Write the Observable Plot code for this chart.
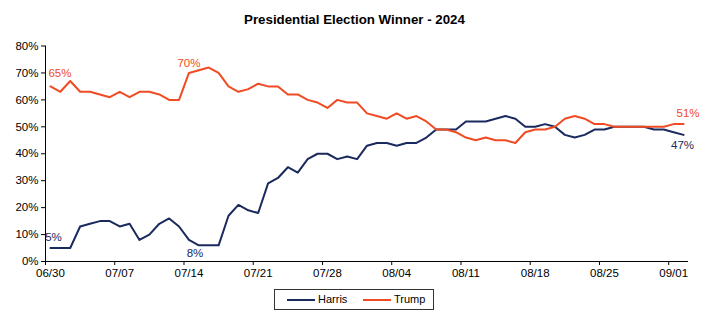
<!DOCTYPE html>
<html><head><meta charset="utf-8">
<script src="https://cdn.jsdelivr.net/npm/d3@7"></script>
<script src="https://cdn.jsdelivr.net/npm/@observablehq/plot@0.6"></script>
<style>
body{margin:0;background:#fff;font-family:"Liberation Sans",Arial,sans-serif;}
#wrap{position:relative;width:709px;height:327px;}
#title{position:absolute;top:12px;left:0;width:709px;text-align:center;font-weight:bold;font-size:13.3px;line-height:16px;color:#000;}
#chart{position:absolute;top:30px;left:0;}
#legend{position:absolute;left:274px;top:289px;width:158px;height:19px;border:1.5px solid #333;font-size:11px;color:#000;}
.sw{position:absolute;top:9px;height:2px;}
.lt{position:absolute;top:3px;line-height:13px;}
</style>
</head><body>
<div id="wrap">
  <div id="title">Presidential Election Winner - 2024</div>
  <div id="chart"></div>
  <div id="legend">
    <div class="sw" id="swH" style="left:12px;width:28px;"></div><div class="lt" style="left:43px;">Harris</div>
    <div class="sw" id="swT" style="left:88px;width:28px;"></div><div class="lt" style="left:119px;">Trump</div>
  </div>
</div>
<script>
const startDate = "2024-06-30";
const endDate = "2024-09-03";
const seriesNames = ["Harris", "Trump"];
const seriesColors = ["#1b2a5e", "#f04b23"];
const harris = [5,5,5,13,14,15,15,13,14,8,10,14,16,13,8,6,6,6,17,21,19,18,29,31,35,33,38,40,40,38,39,38,43,44,44,43,44,44,46,49,49,49,52,52,52,53,54,53,50,50,51,50,47,46,47,49,49,50,50,50,50,49,49,48,47];
const trump = [65,63,67,63,63,62,61,63,61,63,63,62,60,60,70,71,72,70,65,63,64,66,65,65,62,62,60,59,57,60,59,59,55,54,53,55,53,54,52,49,49,48,46,45,46,45,45,44,48,49,49,50,53,54,53,51,51,50,50,50,50,50,50,51,51];
const tickLabels = ["06/30","07/07","07/14","07/21","07/28","08/04","08/11","08/18","08/25","09/01"];
const yTicks = [0,10,20,30,40,50,60,70,80];

document.getElementById("swH").style.background = seriesColors[0];
document.getElementById("swT").style.background = seriesColors[1];

const start = new Date(startDate + "T00:00:00Z");
const dayOf = i => d3.utcHour.offset(d3.utcDay.offset(start, i), 12);
const harrisRows = harris.map((v, i) => ({date: dayOf(i), value: v}));
const trumpRows = trump.map((v, i) => ({date: dayOf(i), value: v}));
const tickDates = tickLabels.map(s => new Date("2024-" + s.replace("/", "-") + "T00:00:00Z"));
const labelDates = tickDates.map(d => d3.utcHour.offset(d, 12));
const labelMap = new Map(labelDates.map((d, i) => [+d, tickLabels[i]]));
const last = harris.length - 1;

const chart = Plot.plot({
  width: 709, height: 252,
  marginTop: 15.5, marginBottom: 21, marginLeft: 45, marginRight: 21,
  style: {fontFamily: "Liberation Sans, Arial, sans-serif", fontSize: "11.5px", color: "#000", background: "transparent"},
  x: {type: "utc", domain: [start, new Date(endDate + "T00:00:00Z")], label: null},
  y: {domain: [0, 80], label: null},
  marks: [
    Plot.axisY({ticks: yTicks, tickSize: 4, tickPadding: 3, tickFormat: d => d + "%", label: null}),
    Plot.axisX({ticks: tickDates, tickSize: 4, tickFormat: () => "", label: null}),
    Plot.axisX({ticks: labelDates, tickSize: 0, tickPadding: 7, tickFormat: d => labelMap.get(+d), label: null}),
    Plot.ruleY([0], {stroke: "#000"}),
    Plot.ruleX([start], {stroke: "#000"}),
    Plot.line(harrisRows, {x: "date", y: "value", stroke: seriesColors[0], strokeWidth: 2}),
    Plot.line(trumpRows, {x: "date", y: "value", stroke: seriesColors[1], strokeWidth: 2}),
    Plot.text([trumpRows[0]], {x: "date", y: "value", text: d => d.value + "%", fill: seriesColors[1], dx: 9.5, dy: -13, fontSize: 11.5}),
    Plot.text([harrisRows[0]], {x: "date", y: "value", text: d => d.value + "%", fill: seriesColors[0], dx: 3, dy: -10.5, fontSize: 11.5}),
    Plot.text([trumpRows[14]], {x: "date", y: "value", text: d => d.value + "%", fill: seriesColors[1], dx: 0, dy: -9.5, fontSize: 11.5}),
    Plot.text([harrisRows[14]], {x: "date", y: "value", text: d => d.value + "%", fill: seriesColors[0], dx: 6, dy: 13, fontSize: 11.5}),
    Plot.text([trumpRows[last]], {x: "date", y: "value", text: d => d.value + "%", fill: seriesColors[1], dx: 4.5, dy: -10.5, fontSize: 11.5}),
    Plot.text([harrisRows[last]], {x: "date", y: "value", text: d => d.value + "%", fill: seriesColors[0], dx: -1, dy: 10.5, fontSize: 11.5})
  ]
});
document.getElementById("chart").appendChild(chart);
</script>
</body></html>
